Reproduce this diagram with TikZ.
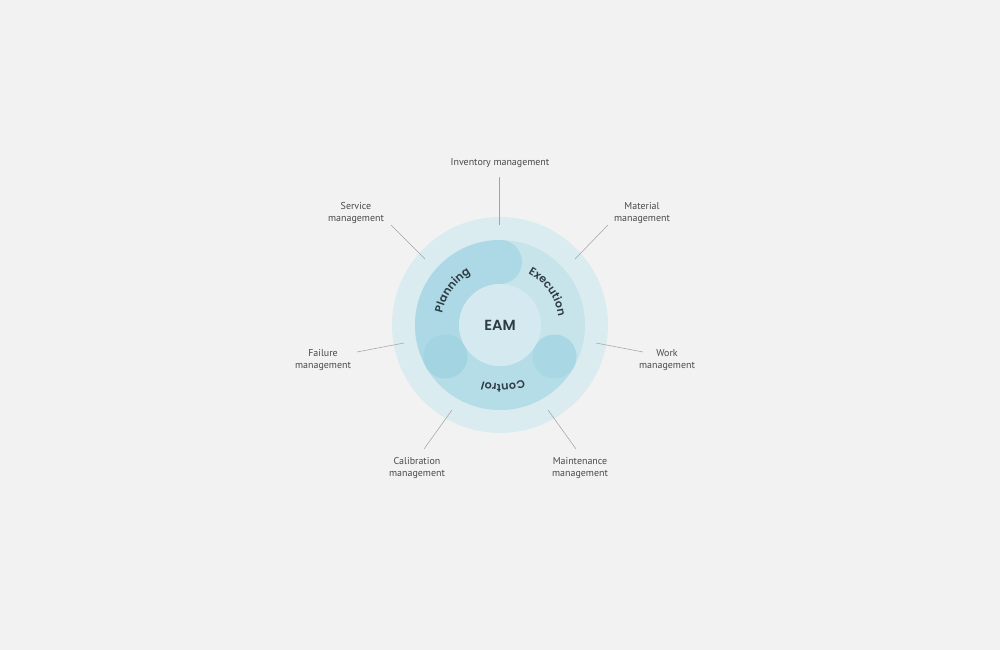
\documentclass[tikz,border=0pt]{standalone}
\usepackage{fontspec}
\setmainfont{PT Sans}
\newfontfamily\ringfont{Poppins}[BoldFont={* SemiBold}]
\usetikzlibrary{decorations.text}

\definecolor{bg}{HTML}{F2F2F2}
\definecolor{outerring}{HTML}{DAECF0}
\definecolor{execband}{HTML}{C7E4EB}
\definecolor{planband}{HTML}{ACD9E5}
\definecolor{ctrlband}{HTML}{B5DDE7}
\definecolor{capleft}{HTML}{A3D4E1}
\definecolor{capright}{HTML}{A9D7E3}
\definecolor{core}{HTML}{D5EAF0}
\definecolor{inktext}{HTML}{2F3C45}
\definecolor{labeltext}{HTML}{4A4A4A}
\definecolor{leader}{HTML}{A3A3A3}

\begin{document}
\begin{tikzpicture}[x=0.03cm,y=0.03cm,
    band/.style={line width=1.32cm},
    moduletext/.style={font=\fontsize{8.5}{10.2}\selectfont, text=labeltext, align=center, inner sep=0pt},
    leaderline/.style={draw=leader, line width=0.45pt},
    ringlabel/.style={decorate, decoration={text along path, text align=center, text color=inktext,
        text={|\ringfont\bfseries\fontsize{9.5}{9.5}\selectfont|#1}}}]

  \fill[bg] (0,0) rectangle (1000,650);
  \coordinate (C) at (500,325);

  % rings
  \fill[outerring] (C) circle[radius=108];
  \fill[execband] (C) circle[radius=85];
  \draw[band, ctrlband] (C) ++(210:63) arc[start angle=210, end angle=330, radius=63];
  \draw[band, planband, line cap=round] (C) ++(210:63) arc[start angle=210, end angle=90, radius=63];
  \fill[capright] (C) ++(330:63) circle[radius=22];
  \fill[capleft] (C) ++(210:63) circle[radius=22];
  \fill[core] (C) circle[radius=41];

  \node[font=\ringfont\bfseries\fontsize{12.5}{12.5}\selectfont, text=inktext] (eam) at (C) {EAM};
  \path[ringlabel=Planning] (C) ++(188:59) arc[start angle=188, end angle=100, radius=59];
  \path[ringlabel=Execution] (C) ++(62:59) arc[start angle=62, end angle=8, radius=59];
  \path[ringlabel=Control] (C) ++(300:59) arc[start angle=300, end angle=246, radius=59];

  % modules
  \node[moduletext] (inventory)   at (500,487) {Inventory management};
  \node[moduletext] (service)     at (356,437) {Service\\management};
  \node[moduletext] (material)    at (642,437) {Material\\management};
  \node[moduletext] (failure)     at (323,290) {Failure\\management};
  \node[moduletext] (work)        at (667,290) {Work\\management};
  \node[moduletext] (calibration) at (417,182) {Calibration\\management};
  \node[moduletext] (maintenance) at (580,182) {Maintenance\\management};

  \coordinate (inventory-a)   at (499,473); \coordinate (inventory-b)   at (499,425);
  \coordinate (service-a)     at (391,425); \coordinate (service-b)     at (425,391);
  \coordinate (material-a)    at (608,425); \coordinate (material-b)    at (575,391);
  \coordinate (failure-a)     at (357,298); \coordinate (failure-b)     at (404,307);
  \coordinate (work-a)        at (643,298); \coordinate (work-b)        at (596,307);
  \coordinate (calibration-a) at (424,201); \coordinate (calibration-b) at (452,240);
  \coordinate (maintenance-a) at (576,201); \coordinate (maintenance-b) at (548,240);

  \draw[leaderline] (inventory-a) -- (inventory-b);
  \draw[leaderline] (service-a) -- (service-b);
  \draw[leaderline] (material-a) -- (material-b);
  \draw[leaderline] (failure-a) -- (failure-b);
  \draw[leaderline] (work-a) -- (work-b);
  \draw[leaderline] (calibration-a) -- (calibration-b);
  \draw[leaderline] (maintenance-a) -- (maintenance-b);
\end{tikzpicture}
\end{document}
